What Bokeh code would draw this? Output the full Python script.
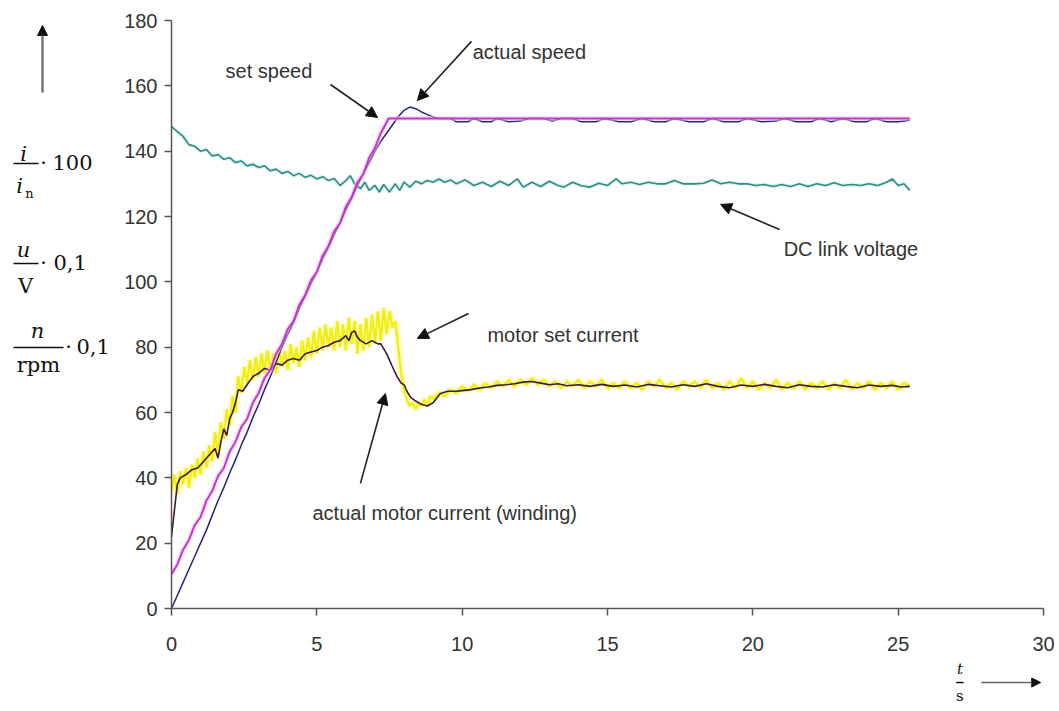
import numpy as np
from bokeh.plotting import figure
from bokeh.models import Range1d, FixedTicker, Label, Arrow, NormalHead
from bokeh.layouts import row, column
from bokeh.embed import file_html
from bokeh.resources import INLINE
from bokeh.core.properties import value

# ---------------- data ----------------
x_ticks = [0, 5, 10, 15, 20, 25, 30]
y_ticks = [0, 20, 40, 60, 80, 100, 120, 140, 160, 180]

# set speed (magenta)
set_t = [0.0, 0.2, 0.4, 0.6, 0.8, 1.0, 1.2, 1.4, 1.6, 1.8, 2.0, 2.2, 2.4, 2.6, 2.8, 3.0,
         3.2, 3.4, 3.6, 3.8, 4.0, 4.2, 4.4, 4.6, 4.8, 5.0, 5.2, 5.4, 5.6, 5.8, 6.0, 6.2,
         6.4, 6.6, 6.8, 7.0, 7.2, 7.47, 10.0, 25.4]
set_v = [10.5, 13.5, 18, 21, 25.5, 28, 33, 36, 40.5, 43, 48, 51, 55.5, 58, 63, 66,
         70.5, 73, 78, 81, 85.5, 88, 93, 96, 100.5, 103, 108, 111, 115.5, 118, 123, 126,
         130.5, 133, 138, 141, 145.5, 150, 150, 150]

# actual speed (dark blue)
spd_t = [0.0, 0.2, 0.4, 0.6, 0.8, 1.0, 1.2, 1.4, 1.6, 1.8, 2.0, 2.2, 2.4, 2.6, 2.8, 3.0,
         3.2, 3.4, 3.6, 3.8, 4.0, 4.2, 4.4, 4.6, 4.8, 5.0, 5.2, 5.4, 5.6, 5.8, 6.0, 6.2,
         6.4, 6.6, 6.8, 7.0, 7.2, 7.4, 7.6, 7.8, 8.0, 8.2, 8.4, 8.6, 8.8, 9.0, 9.2,
         9.6, 9.8, 10.2, 10.4, 10.7, 11.0, 11.2, 11.6, 12.0, 12.3, 12.8, 13.1, 13.4, 13.8,
         14.1, 14.6, 14.9, 15.4, 15.8, 16.2, 16.6, 17.0, 17.3, 17.8, 18.3, 18.6, 19.0, 19.5,
         19.8, 20.3, 20.8, 21.1, 21.5, 22.0, 22.3, 22.7, 23.1, 23.5, 23.9, 24.2, 24.6, 25.0, 25.4]
spd_v = [0, 4, 8, 12, 16, 20, 24, 28.5, 33, 37, 41.5, 45.5, 50, 54, 58.5, 62.5,
         67, 71, 75.5, 80, 84, 87.5, 92, 95.5, 99.5, 103, 107, 110.5, 114.5, 118, 122, 125.5,
         129.5, 133, 136.5, 140, 143, 145.5, 148, 150.5, 152.5, 153.5, 153, 152, 151.2, 150.5, 150,
         150, 149, 149, 150, 149, 149, 150, 149, 149.2, 150, 150, 149.2, 150, 150,
         149, 149, 150, 149, 149, 150, 149, 149, 150, 149, 149, 150, 149, 149,
         150, 149, 149.2, 150, 149, 149, 150, 149, 150, 149, 149, 150, 149, 149, 149.5]

# DC link voltage (teal)
dc_t = [0, 0.2, 0.4, 0.6, 0.8, 1.0, 1.2, 1.4, 1.6, 1.8, 2.0, 2.2, 2.4, 2.6, 2.8, 3.0, 3.2, 3.4,
        3.6, 3.8, 4.0, 4.2, 4.4, 4.6, 4.8, 5.0, 5.2, 5.4, 5.6, 5.8, 6.0, 6.15, 6.3, 6.5, 6.65,
        6.8, 7.0, 7.15, 7.3, 7.5, 7.7, 7.85, 8.0, 8.2, 8.4, 8.6, 8.8, 9.0, 9.2, 9.4, 9.6, 9.8,
        10.1, 10.4, 10.7, 11.0, 11.3, 11.6, 11.9, 12.1, 12.4, 12.7, 13.0, 13.3, 13.5, 13.8,
        14.1, 14.4, 14.7, 15.0, 15.3, 15.5, 15.8, 16.1, 16.4, 16.7, 17.0, 17.3, 17.6, 18.0,
        18.3, 18.6, 18.9, 19.2, 19.5, 19.8, 20.1, 20.4, 20.7, 21.0, 21.3, 21.6, 21.9, 22.2,
        22.5, 22.8, 23.1, 23.4, 23.7, 24.0, 24.3, 24.6, 24.8, 25.0, 25.2, 25.4]
dc_v = [147.5, 146, 144.5, 142, 141.5, 140, 140.5, 138.5, 139, 137.5, 138, 136.5, 137, 135.5,
        136, 135, 135.5, 134, 134.5, 133.2, 133.8, 132.5, 133.2, 132, 132.6, 131.5, 132.2, 131,
        131.6, 129.5, 131, 132.5, 130, 128.5, 130.5, 128, 129.5, 127.5, 129.8, 127.5, 130, 128,
        130.5, 129, 130.8, 130, 131, 130.5, 131.5, 130.5, 131.2, 130,
        131.2, 129.5, 130.5, 129.2, 130.8, 129.5, 131.5, 129, 130.5, 129.2, 130.8, 129.5, 129,
        130.5, 129.4, 129, 130.2, 129.5, 131.5, 130, 130.5, 129.8, 130.5, 130, 130, 131, 130,
        130, 130.2, 131.2, 130, 130.5, 130, 130, 129.5, 129.8, 129.2, 129.8, 129.2, 130, 129.2,
        130, 129.5, 130.3, 129.5, 129.8, 129.5, 130, 129.5, 130.5, 131.5, 129.5, 130, 128]

# actual motor current (winding) (dark)
cur_t = [0, 0.1, 0.2, 0.3, 0.5, 0.7, 0.9, 1.1, 1.3, 1.5, 1.6, 1.7, 1.8, 1.9, 2.0, 2.1, 2.2,
         2.3, 2.45, 2.6, 2.8, 3.0, 3.2, 3.4, 3.6, 3.8, 4.0, 4.2, 4.4, 4.6, 4.8, 5.0, 5.2, 5.4,
         5.6, 5.8, 6.0, 6.1, 6.2, 6.3, 6.4, 6.5, 6.7, 6.9, 7.1, 7.2, 7.4, 7.6, 7.76, 7.9, 8.0,
         8.1, 8.22, 8.4, 8.6, 8.8, 9.0, 9.25, 9.5, 9.8, 10.0, 10.3, 10.6, 10.9, 11.2, 11.5, 11.8,
         12.1, 12.4, 12.7, 13.0, 13.3, 13.6, 14.0, 14.4, 14.8, 15.2, 15.6, 16.0, 16.4, 16.8,
         17.2, 17.6, 18.0, 18.4, 18.8, 19.2, 19.6, 20.0, 20.4, 20.8, 21.2, 21.6, 22.0, 22.4,
         22.8, 23.2, 23.6, 24.0, 24.4, 24.8, 25.1, 25.4]
cur_v = [22, 30, 38, 40, 41, 42.5, 43, 45, 47, 49, 46, 51, 55, 53, 58, 60, 63,
         67, 66.5, 68.5, 71, 72, 73.5, 73, 75, 74.5, 76, 76.5, 76, 78, 78.5, 79, 80, 80.5,
         81.5, 82, 83.5, 82, 84.5, 85, 83, 82, 81, 82, 81, 81, 78, 74, 71, 69, 68.5,
         66.5, 64.7, 63.5, 62.5, 62, 63, 65.8, 66.5, 66.5, 66.7, 67, 67.5, 67.8, 68.3, 68.5, 68.8,
         69.3, 69.5, 69, 68.5, 68.8, 68.2, 68.5, 68, 68.6, 68, 68.4, 67.8, 68.6, 68.2,
         67.8, 68.5, 68, 68.8, 68, 67.6, 68.4, 68, 68.6, 68, 67.6, 68.5, 68, 67.8,
         68.5, 68, 67.6, 68.4, 68, 68.3, 67.8, 68]

# motor set current (yellow): 0..9 s every 0.1 s, then 9.2..25.4 s every 0.2 s
msc_a = [36, 41, 35, 42, 38, 43, 37, 44, 40, 46, 41, 48, 43, 50, 45, 54, 47, 57, 52, 61,
         56, 65, 60, 71, 66, 74, 69, 76, 70, 77, 71, 78, 72, 79, 73, 78, 72, 80, 74, 79,
         73, 81, 75, 80, 74, 82, 76, 83, 77, 85, 78, 86, 79, 87, 80, 86, 79, 88, 80, 87,
         79, 89, 81, 88, 78, 87, 79, 89, 80, 90, 81, 91, 82, 92, 84, 91, 86, 88, 80, 72,
         67, 64, 62, 63, 61, 63, 62, 64, 62, 65, 64]
msc_b = [66, 65, 67, 66, 68, 66.5, 68.5, 67, 69, 67.5, 69.5, 68, 70, 68, 70, 68.5, 70.5, 68.5,
         70, 68, 69.5, 67.5, 69.5, 68, 70, 67.5, 69.5, 68, 70, 67.5, 69, 67.5, 69.5, 67.5, 69,
         67, 69.5, 68, 70, 67.5, 69, 67, 69.5, 68, 69.5, 67.5, 70, 67.5, 69, 67, 69.5, 67.5,
         70.5, 67.5, 69.5, 67, 69, 67.5, 70, 67, 69, 67.5, 69.5, 67, 69, 67.5, 69.5, 67, 69,
         67.5, 70, 67, 69, 67.5, 69.5, 67, 69, 67.5, 69.5, 67, 69, 68]

# annotation texts and arrows (positions in data units)
notes = ["set speed", "actual speed", "DC link voltage", "motor set current",
         "actual motor current (winding)"]
note_x = [1.86, 10.36, 21.06, 10.87, 4.85]
note_y = [164.4, 170.5, 110.2, 83.6, 29.1]
arr_x0 = [5.47, 10.32, 20.92, 10.22, 6.50]
arr_y0 = [160.4, 173.6, 116.0, 90.3, 38.3]
arr_x1 = [7.09, 8.46, 18.89, 8.46, 7.36]
arr_y1 = [150.3, 155.5, 123.7, 82.7, 65.8]


def fit(a, b):
    n = min(len(a), len(b))
    return list(a[:n]), list(b[:n])


# ---------------- main plot ----------------
p = figure(width=939, height=660, x_range=Range1d(0, 30), y_range=Range1d(0, 180),
           toolbar_location=None, output_backend="svg",
           min_border_left=55, min_border_right=12, min_border_top=20, min_border_bottom=52)
p.outline_line_color = None
p.grid.visible = False
p.background_fill_color = "white"
p.border_fill_color = "white"

for ax in (p.xaxis, p.yaxis):
    ax.axis_line_color = "#555555"
    ax.axis_line_width = 1.5
    ax.major_tick_line_color = "#555555"
    ax.major_tick_line_width = 1.5
    ax.major_tick_in = 0
    ax.major_tick_out = 7
    ax.minor_tick_line_color = None
    ax.major_label_text_font = "Liberation Sans"
    ax.major_label_text_font_size = "20px"
    ax.major_label_text_color = "#333333"
p.xaxis.ticker = FixedTicker(ticks=x_ticks)
p.yaxis.ticker = FixedTicker(ticks=y_ticks)
p.xaxis.major_label_standoff = 21
p.yaxis.major_label_standoff = 7

ya = np.linspace(0.0, 9.0, len(msc_a))
yb = np.linspace(9.2, 25.4, len(msc_b))
yel_t = list(ya) + list(yb)
yel_v = list(msc_a) + list(msc_b)

p.line(yel_t, yel_v, line_color="#F6F25A", line_width=7, line_alpha=0.35)
p.line(yel_t, yel_v, line_color="#F2EE10", line_width=2.3)
t, v = fit(dc_t, dc_v)
p.line(t, v, line_color="#BFE8E8", line_width=4, line_alpha=0.5)
p.line(t, v, line_color="#2E8A84", line_width=1.6)
t, v = fit(cur_t, cur_v)
p.line(t, v, line_color="#3B1D33", line_width=1.6)
t, v = fit(spd_t, spd_v)
p.line(t, v, line_color="#26267E", line_width=1.5)
t, v = fit(set_t, set_v)
p.line(t, v, line_color="#F0C8F0", line_width=5, line_alpha=0.5)
p.line(t, v, line_color="#CC33CC", line_width=2)

for txt, x, y in zip(notes, note_x, note_y):
    p.add_layout(Label(x=x, y=y, text=txt, text_font="Liberation Sans",
                       text_font_size="20px", text_color="#333333",
                       text_baseline="middle", text_align="left"))
for x0, y0, x1, y1 in zip(arr_x0, arr_y0, arr_x1, arr_y1):
    p.add_layout(Arrow(x_start=x0, y_start=y0, x_end=x1, y_end=y1,
                       line_color="#222222", line_width=1.6,
                       end=NormalHead(size=11, fill_color="#111111",
                                      line_color="#111111", line_width=1)))

# ---------------- left: y-quantity labels (pixel coordinates) ----------------
lf = figure(width=116, height=709, x_range=Range1d(0, 116), y_range=Range1d(709, 0),
            toolbar_location=None, output_backend="svg", min_border=0,
            x_axis_location=None, y_axis_location=None)
lf.outline_line_color = None
lf.grid.visible = False

serif = value("DejaVu Serif")
lf.text(x=[23, 19, 23, 37], y=[153, 185, 249, 330], text=["i", "i", "u", "n"],
        text_font=serif, text_font_style=value("italic"), text_font_size="21px",
        text_align=value("center"), text_baseline=value("alphabetic"), text_color="#111111")
lf.text(x=[29], y=[193], text=["n"], text_font=serif, text_font_size="13px",
        text_align=value("center"), text_baseline=value("alphabetic"), text_color="#111111")
lf.text(x=[25, 38], y=[285, 364], text=["V", "rpm"], text_font=serif, text_font_size="21px",
        text_align=value("center"), text_baseline=value("alphabetic"), text_color="#111111")
lf.text(x=[43, 43, 68], y=[162, 262, 346], text=["\u00b7", "\u00b7", "\u00b7"],
        text_font=serif, text_font_size="21px",
        text_align=value("center"), text_baseline=value("alphabetic"), text_color="#111111")
lf.text(x=[52, 53, 76], y=[162, 262, 346], text=["100", "0,1", "0,1"],
        text_font=serif, text_font_size="21px",
        text_align=value("left"), text_baseline=value("alphabetic"), text_color="#111111")
lf.segment(x0=[13, 13, 13], y0=[163, 263, 347], x1=[38, 38, 63], y1=[163, 263, 347],
           line_color="#111111", line_width=1.3)
lf.add_layout(Arrow(x_start=42, y_start=92, x_end=42, y_end=25, line_color="#777777",
                    line_width=2.5, end=NormalHead(size=10, fill_color="#111111",
                                                   line_color="#111111")))

# ---------------- bottom: t/s label (pixel coordinates) ----------------
bf = figure(width=939, height=49, x_range=Range1d(0, 939), y_range=Range1d(49, 0),
            toolbar_location=None, output_backend="svg", min_border=0,
            x_axis_location=None, y_axis_location=None)
bf.outline_line_color = None
bf.grid.visible = False
bf.text(x=[849], y=[8], text=["t"], text_font=serif, text_font_style=value("italic"),
        text_font_size="15px", text_align=value("center"), text_baseline=value("alphabetic"),
        text_color="#111111")
bf.text(x=[849], y=[35], text=["s"], text_font=serif, text_font_size="15px",
        text_align=value("center"), text_baseline=value("alphabetic"), text_color="#111111")
bf.segment(x0=[845], y0=[22], x1=[853], y1=[22], line_color="#111111", line_width=1.3)
bf.add_layout(Arrow(x_start=872, y_start=22, x_end=936, y_end=22, line_color="#666666",
                    line_width=1.5, end=NormalHead(size=9, fill_color="#111111",
                                                   line_color="#111111")))

layout = row(lf, column(p, bf))
open("out.html", "w").write(file_html(layout, INLINE))
